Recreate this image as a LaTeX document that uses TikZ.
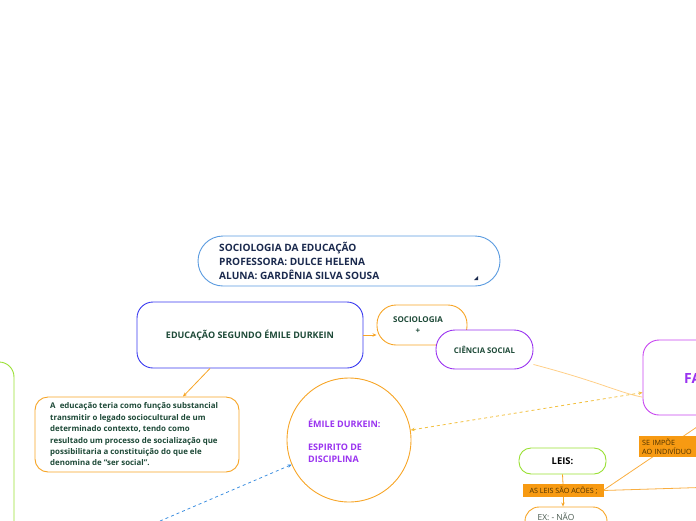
\documentclass[tikz,border=0pt]{standalone}
\usepackage{fontspec}
\setmainfont{Open Sans}
\usetikzlibrary{arrows.meta}
\definecolor{titleblue}{HTML}{5A9BE0}
\definecolor{navy}{HTML}{1B2A4E}
\definecolor{educblue}{HTML}{3A3AF0}
\definecolor{dgreen}{HTML}{1E4A38}
\definecolor{morange}{HTML}{F7A526}
\definecolor{lorange}{HTML}{FFCF88}
\definecolor{dorange}{HTML}{F2C040}
\definecolor{mpurple}{HTML}{9A33F0}
\definecolor{mmagenta}{HTML}{C845F0}
\definecolor{mgreen}{HTML}{99E033}
\definecolor{ofill}{HTML}{F79A12}
\definecolor{obrown}{HTML}{4A3000}
\definecolor{mblue}{HTML}{3D8FE0}
\definecolor{exgray}{HTML}{4A5A50}
\tikzset{
  box/.style={draw, fill=white, line width=0.9pt, inner sep=0pt},
  lbl/.style={inner sep=0pt, align=left},
  tag/.style={fill=ofill, text=obrown, inner sep=0pt, font=\fontsize{7.2}{9}\selectfont},
  conn/.style={line width=0.8pt},
  tip/.style={-{Stealth[length=4pt,width=3.5pt]}},
}
\begin{document}
\begin{tikzpicture}[x=1pt,y=-1pt]
\useasboundingbox (0,0) rectangle (696,520);
\clip (0,0) rectangle (696,520);

\coordinate (bstart) at (160,521);
\coordinate (rightend) at (700,487.5);

\node[box, draw=mmagenta, rounded corners=16pt, minimum width=120pt, minimum height=75pt] (fa) at (703,377.5) {};
\node[box, draw=titleblue, rounded corners=25pt, minimum width=302pt, minimum height=50pt] (title) at (349,261) {};
\node[box, draw=educblue, rounded corners=16pt, minimum width=226pt, minimum height=66pt, text=dgreen, font=\bfseries\fontsize{9}{11}\selectfont] (educ) at (250,335) {EDUCAÇÃO SEGUNDO ÉMILE DURKEIN};
\node[box, draw=morange, rounded corners=19pt, minimum width=90pt, minimum height=40pt] (socio) at (422,325) {};
\node[box, draw=mpurple, rounded corners=19pt, minimum width=97pt, minimum height=39pt, text=dgreen, font=\bfseries\fontsize{7.8}{9}\selectfont] (ciencia) at (484.5,349.5) {CIÊNCIA SOCIAL};
\node[box, draw=morange, rounded corners=13pt, minimum width=204pt, minimum height=75pt] (desc) at (137,434.5) {};
\node[box, draw=morange, circle, minimum size=124pt] (circ) at (349,440) {};
\node[box, draw=mgreen, rounded corners=15pt, minimum width=100pt, minimum height=300pt] (greenbox) at (-36,512) {};
\node[box, draw=mgreen, rounded corners=12pt, minimum width=87pt, minimum height=26pt, font=\bfseries\fontsize{9.4}{11}\selectfont] (leis) at (562.5,461) {LEIS:};
\node[box, draw=morange, rounded corners=14pt, minimum width=82pt, minimum height=40pt] (ex) at (566,527) {};

\draw[conn, morange, tip] (educ.east) -- (educ.east -| socio.west);
\draw[conn, morange, tip] (educ.south) ++(-40,0) -- ([xshift=46pt]desc.north);
\draw[conn, lorange] (ciencia.-17) .. controls (600,382) and (620,393) .. (fa.198);
\draw[conn, dorange, dashed, {Stealth[length=4pt,width=3.5pt]}-{Stealth[length=4pt,width=3.5pt]}] (circ) -- (fa.194);
\draw[conn, mblue, dashed, tip] (bstart) -- (circ);
\draw[conn, ofill!80!white] ([xshift=11pt]fa.south) -- (603,490.5);
\draw[conn, ofill!80!white] (603,490.5) -- (rightend);
\draw[conn, morange] (leis.south) -- (563,484);
\draw[conn, morange, tip] (563,497) -- (ex.north -| 563,0);

\node[tag, minimum width=81pt, minimum height=13pt] (asleis) at (563.5,490.5) {AS LEIS SÃO ACÕES ;};
\node[tag, anchor=north west, text width=62pt, minimum height=21pt, align=left, inner xsep=3pt] (seimpoe) at (639,436) {SE IMPÕE\\AO INDIVÍDUO};

% texts
\node[lbl, anchor=west, text=navy, font=\bfseries\fontsize{10.1}{14}\selectfont] (titletext) at (219,261) {SOCIOLOGIA DA EDUCAÇÃO\\PROFESSORA: DULCE HELENA\\ALUNA: GARDÊNIA SILVA SOUSA};
\fill[navy] (478,276) -- (478,280) -- (474,280) -- cycle;
\node[lbl, align=center, text=dgreen, font=\bfseries\fontsize{8}{11}\selectfont] (sociotext) at (418,325.5) {SOCIOLOGIA\\+};
\node[lbl, anchor=west, text=mpurple, font=\bfseries\fontsize{14}{16}\selectfont] (fatext) at (684,378) {FA};
\node[lbl, anchor=west, text=dgreen, font=\bfseries\fontsize{7.9}{11.4}\selectfont] (desctext) at (50,434.5) {A\ \ educação teria como função substancial\\transmitir o legado sociocultural de um\\determinado contexto, tendo como\\resultado um processo de socialização que\\possibilitaria a constituição do que ele\\denomina de “ser social”.};
\node[lbl, anchor=west, text=mpurple, font=\bfseries\fontsize{9}{12.2}\selectfont] (circtext) at (308,441) {ÉMILE DURKEIN:\\[11pt]ESPIRITO DE\\DISCIPLINA};
\node[lbl, text=exgray, font=\fontsize{8.4}{9}\selectfont] (extext) at (556,517) {EX: - NÃO};
\end{tikzpicture}
\end{document}
